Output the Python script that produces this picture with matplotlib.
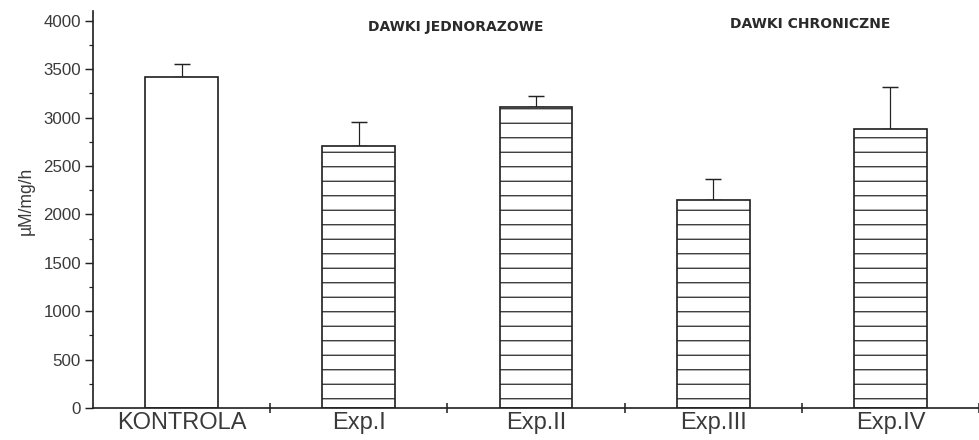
import matplotlib
matplotlib.use("Agg")
import matplotlib.pyplot as plt
from matplotlib.ticker import MultipleLocator, FixedLocator

categories = ["KONTROLA", "Exp.I", "Exp.II", "Exp.III", "Exp.IV"]
means = [3420, 2710, 3110, 2150, 2885]
errors = [135, 240, 115, 215, 435]
hatches = ["", "-", "-", "-", "-"]
group_labels = ["DAWKI JEDNORAZOWE", "DAWKI CHRONICZNE"]

DPI = 87
plt.rcParams["hatch.linewidth"] = 1.0
plt.rcParams["font.family"] = ["Liberation Sans", "DejaVu Sans"]

fig = plt.figure(figsize=(979 / DPI, 440 / DPI), dpi=DPI)
ax = fig.add_axes([93 / 979, 32 / 440, 1 - 93 / 979, (408 - 11) / 440])

edge = "#222222"
txt = "#3a3a3a"
x = list(range(len(categories)))
for xi, m, h in zip(x, means, hatches):
    ax.bar(xi, m, width=0.41, color="white", edgecolor=edge, linewidth=1.4,
           hatch=h, zorder=2)
ax.errorbar(x, means, yerr=[[0] * len(errors), errors], fmt="none",
            ecolor=edge, elinewidth=1.0, capsize=7, capthick=1.2, zorder=1)

ax.set_xlim(-0.5, 4.5)
ax.set_ylim(0, 4100)

ax.spines["top"].set_visible(False)
ax.spines["right"].set_visible(False)
for s in ("left", "bottom"):
    ax.spines[s].set_linewidth(1.4)
    ax.spines[s].set_color(edge)

ax.yaxis.set_major_locator(MultipleLocator(500))
ax.yaxis.set_minor_locator(MultipleLocator(250))
ax.tick_params(axis="y", which="major", direction="out", length=7, width=1.2,
               color=edge, labelsize=14, labelcolor=txt, pad=3)
ax.tick_params(axis="y", which="minor", direction="out", length=3.5, width=1.0,
               color=edge)

ax.set_xticks(x)
ax.set_xticklabels(categories)
ax.xaxis.set_minor_locator(FixedLocator([0.5, 1.5, 2.5, 3.5, 4.5]))
ax.tick_params(axis="x", which="major", length=0, labelsize=19.5, labelcolor=txt, pad=3)
ax.tick_params(axis="x", which="minor", direction="inout", length=9, width=1.3,
               color=edge)

ax.set_ylabel("µM/mg/h", fontsize=14.5, color=txt)
ax.yaxis.set_label_coords(-0.066, 0.521)

ax.text(456 / 979, 1 - 27 / 440, group_labels[0], transform=fig.transFigure,
        ha="center", va="center", fontsize=11.5, fontweight="bold",
        family="DejaVu Sans", color="#2a2a2a")
ax.text(810 / 979, 1 - 24 / 440, group_labels[1], transform=fig.transFigure,
        ha="center", va="center", fontsize=11.5, fontweight="bold",
        family="DejaVu Sans", color="#2a2a2a")

fig.savefig("out.png", dpi=DPI)
